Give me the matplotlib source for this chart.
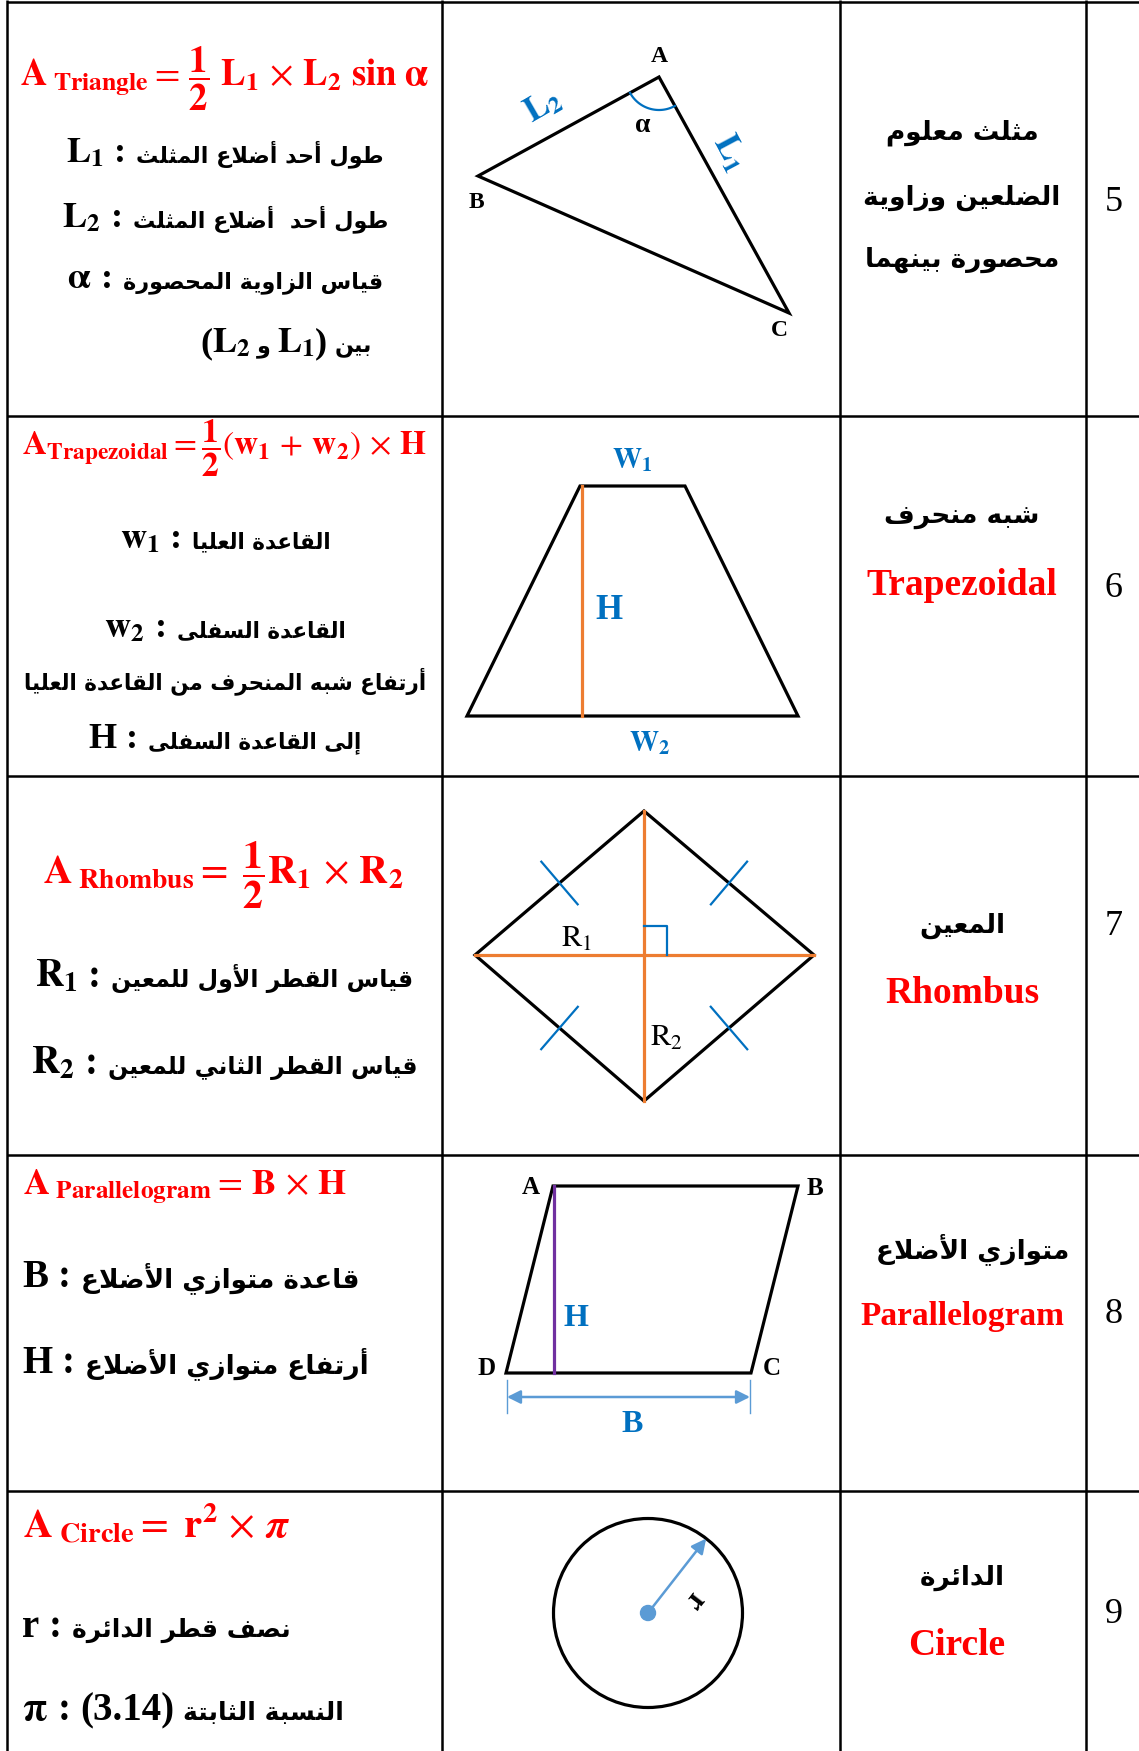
import matplotlib
matplotlib.use('Agg')
import matplotlib.pyplot as plt
import numpy as np
from matplotlib.patches import Polygon, Circle

plt.rcParams['mathtext.fontset'] = 'stix'

# ------------------------------------------------------------------ data
row_numbers = ['5', '6', '7', '8', '9']
names_ar = [['مثلث معلوم', 'الضلعين وزاوية', 'محصورة بينهما'],
            ['شبه منحرف'], ['المعين'], ['متوازي الأضلاع'], ['الدائرة']]
names_en = [None, 'Trapezoidal', 'Rhombus', 'Parallelogram', 'Circle']

formulas = [
    r'$\mathbf{A}_{\ \mathbf{Triangle}} =\, \dfrac{\mathbf{1}}{\mathbf{2}}\ \mathbf{L}_{\mathbf{1}} \,\times\, \mathbf{L}_{\mathbf{2}}\ \mathbf{sin}\ \mathbf{\alpha}$',
    r'$\mathbf{A}_{\mathbf{Trapezoidal}} = \dfrac{\mathbf{1}}{\mathbf{2}}(\mathbf{w}_{\mathbf{1}} \,+\, \mathbf{w}_{\mathbf{2}}) \,\times\, \mathbf{H}$',
    r'$\mathbf{A}_{\ \mathbf{Rhombus}} =\ \dfrac{\mathbf{1}}{\mathbf{2}}\mathbf{R}_{\mathbf{1}} \,\times\, \mathbf{R}_{\mathbf{2}}$',
    r'$\mathbf{A}_{\ \mathbf{Parallelogram}} =\, \mathbf{B} \,\times\, \mathbf{H}$',
    r'$\mathbf{A}_{\ \mathbf{Circle}} =\ \mathbf{r}^{\mathbf{2}} \,\times\, \boldsymbol{\pi}$',
]

L1 = r'$\mathbf{L}_{\mathbf{1}}$'
L2 = r'$\mathbf{L}_{\mathbf{2}}$'
descriptions = [
    [[('m', L1), ('g', 10), ('l', ':'), ('g', 10), ('a', 'طول أحد أضلاع المثلث')],
     [('m', L2), ('g', 10), ('l', ':'), ('g', 10), ('a', 'طول أحد  أضلاع المثلث')],
     [('m', r'$\mathbf{\alpha}$'), ('g', 10), ('l', ':'), ('g', 10), ('a', 'قياس الزاوية المحصورة')],
     [('l', '('), ('m', L2), ('g', 6), ('a', 'و'), ('g', 6), ('m', L1), ('l', ')'), ('g', 8), ('a', 'بين')]],
    [[('m', r'$\mathbf{w}_{\mathbf{1}}$'), ('g', 10), ('l', ':'), ('g', 10), ('a', 'القاعدة العليا')],
     [('m', r'$\mathbf{w}_{\mathbf{2}}$'), ('g', 10), ('l', ':'), ('g', 10), ('a', 'القاعدة السفلى')],
     [('a', 'أرتفاع شبه المنحرف من القاعدة العليا')],
     [('l', 'H'), ('g', 10), ('l', ':'), ('g', 10), ('a', 'إلى القاعدة السفلى')]],
    [[('m', r'$\mathbf{R}_{\mathbf{1}}$'), ('g', 10), ('l', ':'), ('g', 10), ('a', 'قياس القطر الأول للمعين')],
     [('m', r'$\mathbf{R}_{\mathbf{2}}$'), ('g', 10), ('l', ':'), ('g', 10), ('a', 'قياس القطر الثاني للمعين')]],
    [[('l', 'B'), ('g', 10), ('l', ':'), ('g', 10), ('a', 'قاعدة متوازي الأضلاع')],
     [('l', 'H'), ('g', 10), ('l', ':'), ('g', 10), ('a', 'أرتفاع متوازي الأضلاع')]],
    [[('l', 'r'), ('g', 10), ('l', ':'), ('g', 10), ('a', 'نصف قطر الدائرة')],
     [('m', r'$\mathbf{\pi}$'), ('g', 10), ('l', ':'), ('g', 10), ('l', '(3.14)'), ('g', 8), ('a', 'النسبة الثابتة')]],
]

# diagram geometry (pixel coordinates of the drawing)
tri_pts = np.array([[659, 77], [478, 176], [789, 313]])          # A, B, C
tri_labels = ['A', 'B', 'C']
trap_pts = np.array([[580, 486], [685, 486], [798, 716], [467, 716]])
trap_height_x = 582
rhombus_pts = np.array([[644, 811], [814, 955], [644, 1101], [475, 955]])  # top, right, bottom, left
para_pts = np.array([[553, 1186], [798, 1186], [751, 1373], [506, 1373]])   # A, B, C, D
para_labels = ['A', 'B', 'C', 'D']
circle_center = (648, 1613)
circle_radius = 94.5
radius_angle_deg = -52

# ------------------------------------------------------------------ layout
W, H = 1139, 1751
col_x = [7, 442, 840, 1086]
row_y = [2, 416, 776, 1155, 1491]

RED = '#FF0000'
BLUE = '#0070C0'
LBLUE = '#5B9BD5'
ORANGE = '#ED7D31'
PURPLE = '#7030A0'

# ------------------------------------------------------------------ Arabic shaping
_AR = {
    'ء': (0xFE80, 1), 'آ': (0xFE81, 2), 'أ': (0xFE83, 2), 'ؤ': (0xFE85, 2), 'إ': (0xFE87, 2),
    'ئ': (0xFE89, 4), 'ا': (0xFE8D, 2), 'ب': (0xFE8F, 4), 'ة': (0xFE93, 2), 'ت': (0xFE95, 4),
    'ث': (0xFE99, 4), 'ج': (0xFE9D, 4), 'ح': (0xFEA1, 4), 'خ': (0xFEA5, 4), 'د': (0xFEA9, 2),
    'ذ': (0xFEAB, 2), 'ر': (0xFEAD, 2), 'ز': (0xFEAF, 2), 'س': (0xFEB1, 4), 'ش': (0xFEB5, 4),
    'ص': (0xFEB9, 4), 'ض': (0xFEBD, 4), 'ط': (0xFEC1, 4), 'ظ': (0xFEC5, 4), 'ع': (0xFEC9, 4),
    'غ': (0xFECD, 4), 'ف': (0xFED1, 4), 'ق': (0xFED5, 4), 'ك': (0xFED9, 4), 'ل': (0xFEDD, 4),
    'م': (0xFEE1, 4), 'ن': (0xFEE5, 4), 'ه': (0xFEE9, 4), 'و': (0xFEED, 2), 'ى': (0xFEEF, 2),
    'ي': (0xFEF1, 4),
}
_LAM_ALEF = {'آ': 0xFEF5, 'أ': 0xFEF7, 'إ': 0xFEF9, 'ا': 0xFEFB}


def shape_ar(text):
    toks = []
    i = 0
    while i < len(text):
        c = text[i]
        if c == 'ل' and i + 1 < len(text) and text[i + 1] in _LAM_ALEF:
            toks.append(('L', _LAM_ALEF[text[i + 1]], 2))
            i += 2
        elif c in _AR:
            b, n = _AR[c]
            toks.append(('L', b, n))
            i += 1
        else:
            toks.append(('X', c, 0))
            i += 1
    out = []
    for k, (kind, b, n) in enumerate(toks):
        if kind == 'X':
            out.append(b)
            continue
        prev = toks[k - 1] if k > 0 else None
        nxt = toks[k + 1] if k + 1 < len(toks) else None
        jp = prev is not None and prev[0] == 'L' and prev[2] == 4 and n >= 2
        jn = nxt is not None and nxt[0] == 'L' and n == 4 and nxt[2] >= 2
        if n == 1:
            f = 0
        elif n == 2:
            f = 1 if jp else 0
        else:
            f = (3 if jn else 1) if jp else (2 if jn else 0)
        out.append(chr(b + f))
    return ''.join(reversed(out))


# ------------------------------------------------------------------ figure
fig = plt.figure(figsize=(W / 100, H / 100), dpi=100)
ax = fig.add_axes([0, 0, 1, 1])
ax.set_xlim(0, W)
ax.set_ylim(H, 0)
ax.axis('off')
renderer = fig.canvas.get_renderer()

# grid
for x in col_x:
    ax.plot([x, x], [0, H], color='black', lw=1.8, solid_capstyle='butt')
for y in row_y:
    ax.plot([col_x[0], W], [y, y], color='black', lw=1.8, solid_capstyle='butt')


def place(pieces, x, y, align, fs_lat, fs_ar, color='black'):
    arts = []
    for kind, s in pieces:
        if kind == 'g':
            arts.append(('g', s))
            continue
        if kind == 'a':
            t = ax.text(0, y, shape_ar(s), fontsize=fs_ar, family='DejaVu Sans',
                        weight='bold', color=color, va='baseline', ha='left')
        elif kind == 'm':
            t = ax.text(0, y, s, fontsize=fs_lat, color=color, va='baseline', ha='left')
        else:
            t = ax.text(0, y, s, fontsize=fs_lat, family='Liberation Serif',
                        weight='bold', color=color, va='baseline', ha='left')
        arts.append(('t', t))
    ws = [a[1] if a[0] == 'g' else a[1].get_window_extent(renderer).width for a in arts]
    total = sum(ws)
    x0 = {'center': x - total / 2, 'right': x - total, 'left': x}[align]
    for a, w in zip(arts, ws):
        if a[0] == 't':
            a[1].set_x(x0)
        x0 += w


# ---- left column: formulas + descriptions
formula_base = [86, 455, 884, 1194, 1537]
formula_fs = [26.4, 24, 28.5, 26, 29]
formula_align = [('center', 225), ('center', 224), ('center', 223), ('left', 23), ('left', 23)]
desc_base = [[162, 227, 288, 352], [548, 637, 689, 748], [987, 1074], [1287, 1373], [1637, 1720]]
desc_align = [('center', 225), ('center', 225), ('center', 224), ('left', 22), ('left', 22)]
desc_fs_lat = [26, 26, 28, 28, 28]
desc_fs_ar = [16, 15.5, 17, 19, 18]

for i in range(5):
    al, ax_ = formula_align[i]
    place([('m', formulas[i])], ax_, formula_base[i], al, formula_fs[i], 0, color=RED)
    al, ax_ = desc_align[i]
    for j, line in enumerate(descriptions[i]):
        if i == 0 and j == 3:
            place(line, 372, desc_base[i][j], 'right', desc_fs_lat[i], desc_fs_ar[i])
        else:
            place(line, ax_, desc_base[i][j], al, desc_fs_lat[i], desc_fs_ar[i])

# ---- right columns: names and numbers
name_x = [962, 962, 962, 973, 962]
name_ar_base = [[140, 205, 267], [523], [933], [1258], [1585]]
name_en_base = [None, 595, 1003, 1325, 1655]
name_en_fs = [None, 27, 27, 24, 27]
num_base = [211, 597, 935, 1323, 1623]
for i in range(5):
    for j, s in enumerate(names_ar[i]):
        place([('a', s)], name_x[i], name_ar_base[i][j], 'center', 19, 19)
    if names_en[i]:
        ax.text(962 if i != 4 else 957, name_en_base[i], names_en[i], fontsize=name_en_fs[i],
                family='Liberation Serif', weight='bold', color=RED, ha='center', va='baseline')
    ax.text(1114, num_base[i], row_numbers[i], fontsize=26, family='Liberation Serif',
            color='black', ha='center', va='baseline')

LW = 2.3
lab = dict(family='Liberation Serif', weight='bold', ha='center', va='center')

# ---- triangle
ax.add_patch(Polygon(tri_pts, closed=True, fill=False, ec='black', lw=LW, joinstyle='miter'))
A, B, C = tri_pts.astype(float)
aAB = np.arctan2(*(B - A)[::-1])
aAC = np.arctan2(*(C - A)[::-1])
t = np.linspace(aAC, aAB, 40)
ax.plot(A[0] + 33 * np.cos(t), A[1] + 33 * np.sin(t), color=BLUE, lw=1.6)
for p, s, off in zip(tri_pts, tri_labels, [(0, -20), (-2, 26), (-10, 18)]):
    ax.text(p[0] + off[0], p[1] + off[1], s, fontsize=17, **lab)
ax.text(643, 125, 'α', fontsize=20, **lab)
ax.text(543, 105, L2, fontsize=25, color=BLUE, rotation=30, ha='center', va='center')
ax.text(730, 152, L1, fontsize=25, color=BLUE, rotation=-62, ha='center', va='center')

# ---- trapezoid
ax.add_patch(Polygon(trap_pts, closed=True, fill=False, ec='black', lw=LW, joinstyle='miter'))
ax.plot([trap_height_x, trap_height_x], [trap_pts[0, 1], trap_pts[3, 1]], color=ORANGE, lw=LW)
ax.text(632, 460, r'$\mathbf{W}_{\mathbf{1}}$', fontsize=21, color=BLUE, ha='center', va='center')
ax.text(609, 610, 'H', fontsize=25, color=BLUE, **lab)
ax.text(650, 743, r'$\mathbf{W}_{\mathbf{2}}$', fontsize=21, color=BLUE, ha='center', va='center')

# ---- rhombus
ax.add_patch(Polygon(rhombus_pts, closed=True, fill=False, ec='black', lw=LW, joinstyle='miter'))
top, right, bot, left = rhombus_pts.astype(float)
ax.plot([left[0], right[0]], [left[1], right[1]], color=ORANGE, lw=LW)
ax.plot([top[0], bot[0]], [top[1], bot[1]], color=ORANGE, lw=LW)
cx, cy = top[0], left[1]
ax.plot([cx, cx + 23, cx + 23], [cy - 29, cy - 29, cy], color=BLUE, lw=1.6)
for p, q in [(left, top), (top, right), (left, bot), (bot, right)]:
    m = (p + q) / 2
    d = (q - p) / np.hypot(*(q - p))
    n = np.array([-d[1], d[0]])
    ax.plot([m[0] - 28 * n[0], m[0] + 28 * n[0]], [m[1] - 28 * n[1], m[1] + 28 * n[1]],
            color=BLUE, lw=1.6)
ax.text(577, 938, r'$\mathrm{R}_{1}$', fontsize=22, color='black', ha='center', va='center')
ax.text(666, 1037, r'$\mathrm{R}_{2}$', fontsize=22, color='black', ha='center', va='center')

# ---- parallelogram
ax.add_patch(Polygon(para_pts, closed=True, fill=False, ec='black', lw=LW, joinstyle='miter'))
ax.plot([para_pts[0, 0] + 1, para_pts[0, 0] + 1], [para_pts[0, 1], para_pts[2, 1]], color=PURPLE, lw=LW)
for p, s, off in zip(para_pts, para_labels, [(-22, 1), (17, 2), (21, -5), (-19, -5)]):
    ax.text(p[0] + off[0], p[1] + off[1], s, fontsize=18, **lab)
ax.text(576, 1318, 'H', fontsize=23, color=BLUE, **lab)
xl, xr = para_pts[3, 0] + 1, para_pts[2, 0] - 1
ax.plot([xl, xl], [1380, 1413], color=LBLUE, lw=1)
ax.plot([xr, xr], [1380, 1413], color=LBLUE, lw=1)
ax.annotate('', xy=(xr, 1397), xytext=(xl, 1397),
            arrowprops=dict(arrowstyle='<|-|>', color=LBLUE, lw=1.8, mutation_scale=20,
                            shrinkA=0, shrinkB=0))
ax.text((xl + xr) / 2 + 4, 1424, 'B', fontsize=23, color=BLUE, **lab)

# ---- circle
ax.add_patch(Circle(circle_center, circle_radius, fill=False, ec='black', lw=LW))
ax.add_patch(Circle(circle_center, 7.5, color=LBLUE))
ang = np.deg2rad(radius_angle_deg)
tip = (circle_center[0] + circle_radius * np.cos(ang), circle_center[1] + circle_radius * np.sin(ang))
ax.annotate('', xy=tip, xytext=circle_center,
            arrowprops=dict(arrowstyle='-|>', color=LBLUE, lw=1.8, mutation_scale=22,
                            shrinkA=0, shrinkB=0))
ax.text(694, 1600, 'r', fontsize=22, rotation=-128, **lab)

fig.savefig('out.png', dpi=100)
